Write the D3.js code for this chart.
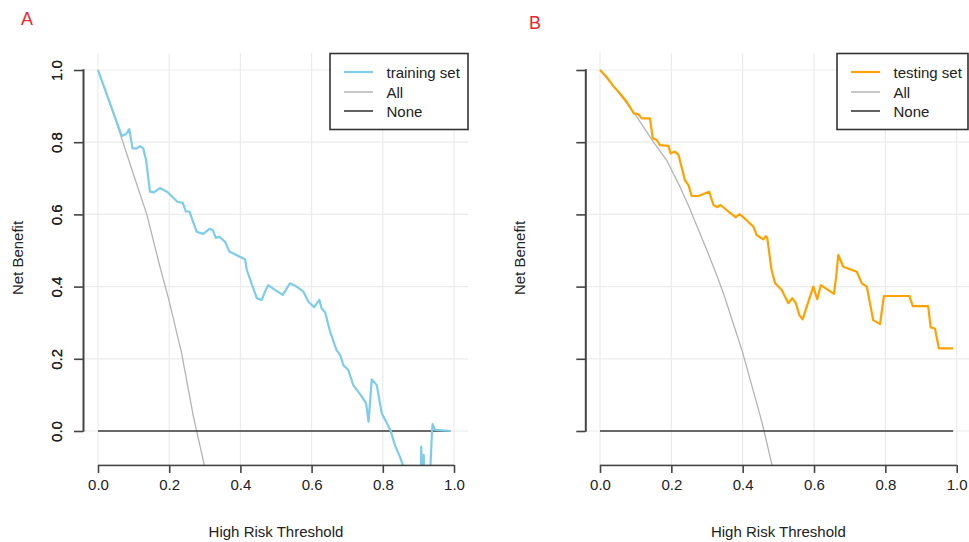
<!DOCTYPE html>
<html>
<head>
<meta charset="utf-8">
<script src="https://cdn.jsdelivr.net/npm/d3@7"></script>
<style>
  body { margin: 0; background: #fff; }
  svg { display: block; font-family: "Liberation Sans", Arial, sans-serif; }
</style>
</head>
<body>
<svg id="chart" width="969" height="542"></svg>
<script>
// thresholds and net benefit
var xTicks = [0, 0.2, 0.4, 0.6, 0.8, 1.0];
var yTicks = [0, 0.2, 0.4, 0.6, 0.8, 1.0];
var tickLabels = ["0.0", "0.2", "0.4", "0.6", "0.8", "1.0"];

var trainX = [0, 0.067, 0.079, 0.088, 0.097, 0.109, 0.118, 0.127, 0.135, 0.146, 0.157, 0.174, 0.195, 0.223, 0.238, 0.247, 0.257, 0.277, 0.296, 0.313, 0.322, 0.331, 0.341, 0.357, 0.369, 0.413, 0.418, 0.446, 0.460, 0.469, 0.478, 0.497, 0.519, 0.539, 0.558, 0.577, 0.591, 0.607, 0.622, 0.628, 0.638, 0.652, 0.670, 0.680, 0.689, 0.703, 0.717, 0.741, 0.753, 0.760, 0.769, 0.783, 0.797, 0.809, 0.822, 0.834, 0.848, 0.856, 0.880, 0.906, 0.908, 0.910, 0.913, 0.915, 0.917, 0.930, 0.934, 0.938, 0.940, 0.947, 0.990];
var trainNB = [1.0, 0.817, 0.823, 0.836, 0.783, 0.783, 0.789, 0.783, 0.751, 0.663, 0.661, 0.673, 0.662, 0.635, 0.632, 0.608, 0.608, 0.552, 0.546, 0.560, 0.557, 0.535, 0.538, 0.524, 0.497, 0.476, 0.446, 0.368, 0.363, 0.386, 0.404, 0.391, 0.377, 0.409, 0.400, 0.386, 0.358, 0.343, 0.363, 0.340, 0.329, 0.275, 0.224, 0.211, 0.183, 0.169, 0.127, 0.095, 0.077, 0.026, 0.143, 0.127, 0.049, 0.026, 0.001, -0.039, -0.071, -0.094, -0.2, -0.2, -0.043, -0.2, -0.2, -0.066, -0.2, -0.2, -0.094, -0.006, 0.019, 0.003, 0.0];

var allAX = [0, 0.05, 0.1, 0.137, 0.174, 0.2, 0.235, 0.268, 0.277, 0.30];
var allANB = [1.0, 0.86, 0.71, 0.60, 0.455, 0.36, 0.215, 0.04, 0.0, -0.10];

var testX = [0, 0.019, 0.037, 0.056, 0.075, 0.095, 0.107, 0.117, 0.140, 0.148, 0.159, 0.168, 0.192, 0.198, 0.210, 0.220, 0.238, 0.248, 0.257, 0.276, 0.306, 0.318, 0.329, 0.338, 0.360, 0.381, 0.391, 0.411, 0.430, 0.439, 0.458, 0.465, 0.469, 0.481, 0.491, 0.509, 0.528, 0.539, 0.549, 0.559, 0.568, 0.598, 0.609, 0.619, 0.656, 0.662, 0.668, 0.682, 0.720, 0.734, 0.748, 0.766, 0.785, 0.796, 0.867, 0.877, 0.920, 0.927, 0.939, 0.950, 0.990];
var testNB = [1.0, 0.980, 0.956, 0.935, 0.912, 0.880, 0.878, 0.866, 0.866, 0.811, 0.806, 0.792, 0.790, 0.769, 0.774, 0.765, 0.695, 0.681, 0.651, 0.651, 0.663, 0.626, 0.620, 0.626, 0.608, 0.592, 0.601, 0.584, 0.566, 0.543, 0.531, 0.540, 0.534, 0.446, 0.409, 0.391, 0.354, 0.368, 0.354, 0.321, 0.309, 0.400, 0.365, 0.404, 0.380, 0.427, 0.488, 0.455, 0.441, 0.409, 0.400, 0.307, 0.296, 0.374, 0.374, 0.346, 0.346, 0.287, 0.284, 0.229, 0.229];

var allBX = [0, 0.05, 0.1, 0.15, 0.187, 0.224, 0.25, 0.3, 0.329, 0.35, 0.4, 0.45, 0.46, 0.485];
var allBNB = [1.0, 0.94, 0.875, 0.80, 0.75, 0.677, 0.62, 0.50, 0.427, 0.37, 0.217, 0.039, 0.0, -0.106];

var svg = d3.select("#chart");
var axisLines = [];

function drawPanel(p) {
  var x = d3.scaleLinear().domain([0, 1]).range([p.x0, p.x1]);
  var y = d3.scaleLinear().domain([0, 1]).range([431, 70]);
  var top = y(1.047), bottom = y(-0.094);
  var g = svg.append("g");

  var clipId = "clip" + p.tag;
  svg.append("clipPath").attr("id", clipId)
    .append("rect").attr("x", p.left).attr("y", top)
    .attr("width", p.right - p.left).attr("height", bottom - top);

  // grid
  g.selectAll(".vg").data(xTicks).enter().append("line")
    .attr("x1", d => x(d)).attr("x2", d => x(d))
    .attr("y1", top).attr("y2", bottom)
    .attr("stroke", "#ebebeb").attr("stroke-width", 1.2);
  g.selectAll(".hg").data(yTicks).enter().append("line")
    .attr("x1", p.left).attr("x2", p.right)
    .attr("y1", d => y(d)).attr("y2", d => y(d))
    .attr("stroke", "#ebebeb").attr("stroke-width", 1.2);

  var line = d3.line().x(d => x(d[0])).y(d => y(d[1]));
  var plot = g.append("g").attr("clip-path", "url(#" + clipId + ")");

  plot.append("path").datum(d3.zip(p.allX, p.allNB))
    .attr("d", line).attr("fill", "none")
    .attr("stroke", "#b4b4b4").attr("stroke-width", 1.3);
  plot.append("path").datum([[0, 0], [0.99, 0]])
    .attr("d", line).attr("fill", "none")
    .attr("stroke", "#3a3a3a").attr("stroke-width", 1.6);
  plot.append("path").datum(d3.zip(p.modelX, p.modelNB))
    .attr("d", line).attr("fill", "none")
    .attr("stroke", p.color).attr("stroke-width", 2.2)
    .attr("stroke-linejoin", "round");

  // axes (R style: the axis line only spans the tick range)
  var xa = g.append("g").attr("transform", "translate(0," + bottom + ")")
    .call(d3.axisBottom(x).tickValues(xTicks).tickSizeOuter(0).tickSizeInner(8)
      .tickFormat((d, i) => tickLabels[i]).tickPadding(6));
  var ya = g.append("g").attr("transform", "translate(" + p.left + ",0)")
    .call(d3.axisLeft(y).tickValues(yTicks).tickSizeOuter(0).tickSizeInner(9)
      .tickFormat((d, i) => tickLabels[i]));
  g.selectAll(".domain").remove();
  g.selectAll(".tick line").attr("stroke", "#444").attr("stroke-width", 1.6);

  xa.selectAll("text").attr("font-size", 15).attr("fill", "#222")
    .attr("font-family", "Liberation Sans, Arial, sans-serif");
  ya.selectAll("text").attr("font-size", 15).attr("fill", "#222")
    .attr("font-family", "Liberation Sans, Arial, sans-serif")
    .attr("text-anchor", "middle").attr("dy", null).attr("x", null)
    .attr("transform", "translate(" + (61.5 - p.left) + ",0) rotate(-90)");

  // titles
  g.append("text").attr("x", (p.x0 + p.x1) / 2).attr("y", 537)
    .attr("text-anchor", "middle").attr("font-size", 15).attr("fill", "#222")
    .text("High Risk Threshold");
  g.append("text").attr("transform", "translate(" + p.ylabX + ",258) rotate(-90)")
    .attr("text-anchor", "middle").attr("font-size", 15).attr("fill", "#222")
    .text("Net Benefit");
  g.append("text").attr("x", p.tagX).attr("y", p.tagY)
    .attr("font-size", 18).attr("fill", "#e8262f")
    .attr("font-family", p.tagFont)
    .text(p.tag);

  // legend
  var lg = g.append("g");
  lg.append("rect").attr("x", p.legX).attr("y", 53.5)
    .attr("width", p.legW).attr("height", 76)
    .attr("fill", "#fff").attr("stroke", "#333").attr("stroke-width", 1.6);
  var items = [[p.name, p.color, 2.2], ["All", "#b4b4b4", 1.5], ["None", "#3a3a3a", 1.6]];
  var rowY = [72, 92, 111];
  items.forEach(function(it, i) {
    lg.append("line").attr("x1", p.legX + 14).attr("x2", p.legX + 43)
      .attr("y1", rowY[i]).attr("y2", rowY[i])
      .attr("stroke", it[1]).attr("stroke-width", it[2]);
    lg.append("text").attr("x", p.legX + 56.5).attr("y", rowY[i] + 5.5)
      .attr("font-size", 15).attr("fill", "#222").text(it[0]);
  });

  axisLines.push({x: x(0), y: bottom - 0.3, w: x(1) - x(0), h: 1.6});
  axisLines.push({x: p.left - 0.5, y: y(1) - 0.8, w: 2, h: y(0) - y(1) + 1.6});
}

drawPanel({tag: "A", x0: 98, x1: 454, left: 83, right: 468, ylabX: 23,
  tagX: 21, tagY: 25, tagFont: "Liberation Sans, Arial, sans-serif",
  legX: 330, legW: 138, name: "training set", color: "#7ecbea",
  modelX: trainX, modelNB: trainNB, allX: allAX, allNB: allANB});

drawPanel({tag: "B", x0: 600, x1: 956.7, left: 585.3, right: 969, ylabX: 525,
  tagX: 529, tagY: 29, tagFont: "Liberation Sans Narrow, Liberation Sans, sans-serif",
  legX: 837, legW: 131, name: "testing set", color: "#ffa200",
  modelX: testX, modelNB: testNB, allX: allBX, allNB: allBNB});

// axis lines on top of everything
svg.append("g").selectAll("rect").data(axisLines).enter().append("rect")
  .attr("x", d => d.x).attr("y", d => d.y)
  .attr("width", d => d.w).attr("height", d => d.h)
  .attr("fill", "#444");
</script>
</body>
</html>
